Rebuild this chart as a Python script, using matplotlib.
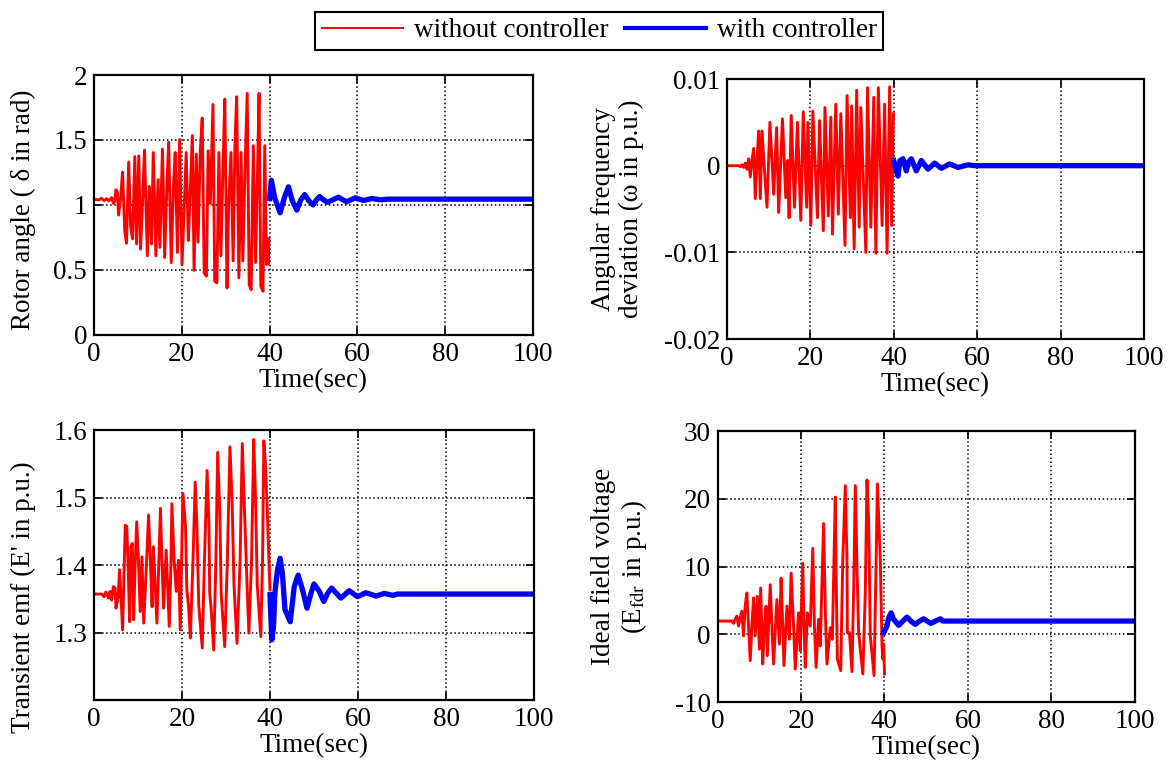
import numpy as np
import matplotlib
matplotlib.use("Agg")
import matplotlib.pyplot as plt
from matplotlib.lines import Line2D

plt.rcParams['font.family'] = ['Liberation Serif', 'DejaVu Serif']
plt.rcParams['mathtext.fontset'] = 'stix'

# rotor angle (rad)
rotor_t_wo = [0, 1.1, 1.7, 2.3, 2.9, 3.4, 4.0, 4.4, 4.7, 5.0, 5.3, 5.6, 6.1, 6.5, 7.0, 7.4, 7.9, 8.35, 8.8,
              9.3, 9.7, 10.2, 10.6, 11.1, 11.5, 12.15, 12.6, 13.1, 13.5, 14.1, 14.6, 15.0, 15.6, 16.1, 16.55,
              17.0, 17.6, 18.1, 18.5, 19.0, 19.5, 20.05, 20.5, 21.0, 21.5, 21.9, 22.4, 22.8, 23.3, 23.7, 24.2,
              24.65, 25.1, 25.6, 26.0, 26.5, 27.1, 27.5, 28.0, 28.45, 28.9, 29.4, 29.8, 30.3, 30.7, 31.2, 31.7,
              32.1, 32.5, 33.0, 33.5, 33.9, 34.4, 34.9, 35.35, 35.8, 36.3, 36.8, 37.25, 37.6, 38.0, 38.5, 38.9,
              39.3, 39.5, 39.7, 39.85]
rotor_wo = [1.044, 1.039, 1.052, 1.034, 1.049, 1.031, 1.057, 1.013, 1.026, 1.117, 1.104, 0.922, 1.065, 1.253,
            0.805, 0.706, 1.331, 0.831, 0.740, 1.372, 0.700, 1.378, 0.661, 1.065, 1.422, 0.609, 1.143, 0.700,
            1.404, 0.609, 1.195, 0.674, 1.430, 0.596, 1.091, 1.482, 0.557, 1.143, 1.404, 0.635, 1.503, 0.544,
            0.935, 1.404, 0.727, 1.078, 1.534, 0.497, 1.391, 0.714, 1.404, 1.669, 0.479, 0.453, 1.417, 1.013,
            1.773, 0.414, 0.401, 1.404, 0.609, 1.326, 1.815, 0.362, 1.013, 1.404, 0.570, 1.456, 1.833, 0.440,
            1.404, 0.570, 1.273, 1.859, 0.388, 0.349, 1.456, 0.557, 1.247, 1.859, 0.375, 0.336, 1.456, 0.544,
            0.740, 0.544, 0.740]
rotor_t_w = [40.0, 40.4, 41.2, 42.4, 43.4, 44.3, 45.2, 46.2, 47.1, 48.0, 49.0, 49.9, 50.7, 51.4, 52.3, 53.2,
             54.4, 55.7, 56.7, 57.6, 59.5, 61.4, 63.3, 65.2, 67.0, 100.0]
rotor_w = [1.05, 1.19, 1.05, 0.94, 1.06, 1.14, 1.03, 0.96, 1.04, 1.08, 1.03, 1.00, 1.04, 1.065, 1.04, 1.02,
           1.04, 1.06, 1.04, 1.025, 1.055, 1.035, 1.05, 1.04, 1.045, 1.045]

# angular frequency deviation (p.u.)
omega_t_wo = [0, 2.8, 3.2, 3.6, 4.0, 4.4, 4.8, 5.2, 5.6, 6.0, 6.4, 6.8, 7.2, 7.6, 8.0, 8.4, 9.0, 9.6, 10.3,
              10.8, 11.2, 11.9, 12.4, 13.3, 14.1, 14.5, 14.9, 15.4, 16.2, 16.9, 17.7, 18.3, 19.1, 19.4, 20.1,
              20.6, 21.7, 22.2, 23.1, 23.5, 24.3, 24.9, 25.3, 26.1, 26.7, 27.3, 28.3, 28.8, 29.6, 29.9, 30.5,
              31.1, 31.7, 32.1, 33.3, 33.7, 34.5, 35.2, 35.7, 36.3, 37.2, 37.8, 38.4, 39.0, 39.5, 39.9]
omega_wo = [0, 0, -0.0001, 0.0001, -0.0002, 0.0003, -0.0004, 0.0008, -0.0013, 0.0006, 0.002, -0.0038, 0.0006,
            0.004, -0.0038, 0.004, -0.0006, -0.0048, 0.005, 0.0006, -0.0033, 0.0044, -0.0054, 0.0054, -0.0037,
            0.0006, -0.006, 0.0058, -0.0048, 0.005, -0.0063, 0.0062, -0.0048, 0.005, -0.0069, 0.0063, -0.006,
            0.0052, -0.0075, 0.0067, -0.0058, 0.0056, -0.0079, 0.0071, -0.0056, 0.006, -0.0092, 0.0081, -0.006,
            0.0069, -0.0096, 0.0087, -0.0071, 0.0067, -0.01, 0.009, -0.0071, 0.0079, -0.0101, 0.009, -0.0069,
            0.0071, -0.0101, 0.0091, -0.0069, 0.006]
omega_t_w = [40.0, 40.6, 41.0, 41.5, 42.2, 43.0, 43.5, 44.2, 45.4, 46.6, 48.2, 49.8, 51.4, 53.4, 55.4, 57.8,
             59.4, 100.0]
omega_w = [0.0006, -0.0006, -0.0012, 0.0006, 0.0008, -0.0006, 0.0004, 0.0008, -0.0006, 0.0006, -0.0004,
           0.0003, -0.0003, 0.0002, -0.0002, 0.0001, 0, 0]

# transient emf (p.u.)
emf_t_wo = [0, 1.75, 2.3, 2.7, 3.3, 3.65, 4.0, 4.4, 4.8, 5.0, 5.5, 5.8, 6.3, 6.5, 7.1, 7.45, 7.8, 8.1, 8.4,
            8.7, 9.0, 9.35, 9.7, 10.1, 10.5, 10.9, 11.3, 11.9, 12.4, 12.8, 13.2, 13.5, 14.3, 14.7, 15.1, 15.4,
            15.8, 16.4, 17.1, 17.5, 17.7, 18.2, 18.7, 19.2, 19.6, 19.9, 20.2, 20.8, 21.1, 21.5, 21.9, 22.5,
            23.0, 23.4, 23.8, 24.6, 25.1, 25.7, 26.1, 26.3, 26.6, 27.2, 27.7, 28.1, 28.6, 28.9, 29.7, 30.3,
            30.9, 31.4, 31.8, 32.5, 33.2, 33.7, 34.2, 34.8, 35.2, 35.8, 36.3, 36.7, 37.1, 37.9, 38.3, 38.6,
            39.0, 39.4, 39.8, 40.0]
emf_wo = [1.357, 1.357, 1.353, 1.36, 1.351, 1.361, 1.348, 1.368, 1.366, 1.336, 1.353, 1.393, 1.331, 1.304,
          1.459, 1.457, 1.388, 1.316, 1.427, 1.432, 1.319, 1.398, 1.464, 1.407, 1.331, 1.412, 1.314, 1.398,
          1.474, 1.407, 1.338, 1.427, 1.314, 1.398, 1.484, 1.417, 1.336, 1.422, 1.309, 1.407, 1.491, 1.407,
          1.361, 1.407, 1.304, 1.407, 1.506, 1.457, 1.363, 1.338, 1.292, 1.407, 1.523, 1.457, 1.341, 1.277,
          1.407, 1.54, 1.466, 1.358, 1.338, 1.274, 1.407, 1.567, 1.476, 1.358, 1.279, 1.407, 1.575, 1.491,
          1.373, 1.284, 1.407, 1.58, 1.481, 1.368, 1.299, 1.407, 1.586, 1.501, 1.37, 1.294, 1.407, 1.584,
          1.545, 1.476, 1.398, 1.363]
emf_t_w = [40.0, 40.4, 40.8, 41.1, 41.7, 42.3, 42.8, 43.4, 44.6, 45.5, 46.4, 47.4, 48.4, 49.3, 50.0, 51.2,
           52.2, 53.1, 54.0, 55.1, 56.1, 58.0, 59.9, 61.8, 64.1, 66.0, 67.9, 69.0, 100.0]
emf_w = [1.356, 1.289, 1.309, 1.358, 1.393, 1.41, 1.388, 1.334, 1.316, 1.368, 1.385, 1.363, 1.336, 1.358,
         1.372, 1.361, 1.346, 1.358, 1.366, 1.358, 1.351, 1.362, 1.353, 1.359, 1.354, 1.358, 1.355, 1.357,
         1.357]

# ideal field voltage (p.u.)
efd_t_wo = [0, 3.4, 3.8, 4.2, 4.6, 5.0, 5.4, 5.8, 6.2, 6.6, 7.0, 7.4, 7.8, 8.2, 8.6, 9.0, 9.5, 10.0, 10.3,
            10.8, 11.2, 11.6, 11.9, 12.6, 13.0, 13.4, 14.2, 14.8, 15.2, 15.6, 15.9, 16.6, 17.2, 17.6, 18.2,
            18.6, 19.4, 19.8, 20.4, 20.7, 21.0, 21.5, 22.2, 22.8, 23.2, 23.6, 24.2, 24.6, 25.4, 25.8, 26.2,
            27.0, 27.5, 28.2, 28.4, 28.7, 29.5, 30.0, 30.6, 31.0, 31.1, 31.6, 32.2, 32.6, 33.0, 33.4, 33.8,
            34.8, 35.4, 35.8, 36.2, 36.6, 37.5, 38.0, 38.3, 39.0, 39.4, 39.6, 39.8, 40.0]
efd_wo = [1.95, 1.95, 1.61, 2.2, 2.68, 1.22, 2.44, 3.41, -0.24, 4.15, 6.1, 1.22, -3.9, 1.22, 5.37, -0.24,
          5.61, -2.2, 6.83, -4.39, 1.22, 4.15, -3.17, 7.32, 1.22, -4.39, 5.12, -1.46, 8.29, 1.22, -4.63, 4.15,
          -0.73, 9.02, 1.22, -5.12, 3.17, -2.44, 10.49, 1.22, -4.88, 3.17, 1.22, 12.68, 1.22, -4.88, 2.2,
          -1.71, 16.34, 3.66, -4.39, 0.98, -0.73, 20.24, 8.54, -3.66, -5.37, 10.98, 21.95, 10.98, 0.24, 0.24,
          -5.51, 6.1, 21.95, 10.0, 0.24, -5.85, 6.1, 22.78, 16.83, -0.24, -6.1, 10.98, 22.2, 10.98, -1.71,
          -3.66, -1.46, -5.85]
efd_t_w = [39.8, 40.6, 41.0, 41.6, 42.2, 43.4, 44.4, 45.4, 46.3, 47.4, 48.4, 49.4, 50.2, 51.1, 52.2, 53.4,
           54.0, 100.0]
efd_w = [0.24, 1.22, 2.44, 3.17, 2.2, 1.32, 1.95, 2.54, 1.95, 1.46, 1.95, 2.29, 1.95, 1.61, 1.95, 2.29,
         1.95, 1.95]

FS = 19.5

fig = plt.figure(figsize=(11.75, 7.74), dpi=100)
ax1 = fig.add_axes([0.080, 0.5672, 0.3736, 0.3359])
ax2 = fig.add_axes([0.6187, 0.5620, 0.3549, 0.3359])
ax3 = fig.add_axes([0.080, 0.0956, 0.3745, 0.3488])
ax4 = fig.add_axes([0.6108, 0.0930, 0.3549, 0.3501])

panels = [
    (ax1, rotor_t_wo, rotor_wo, rotor_t_w, rotor_w, (0, 2), [0, 0.5, 1, 1.5, 2], ['0', '0.5', '1', '1.5', '2']),
    (ax2, omega_t_wo, omega_wo, omega_t_w, omega_w, (-0.02, 0.01), [-0.02, -0.01, 0, 0.01],
     ['-0.02', '-0.01', '0', '0.01']),
    (ax3, emf_t_wo, emf_wo, emf_t_w, emf_w, (1.2, 1.6), [1.3, 1.4, 1.5, 1.6], ['1.3', '1.4', '1.5', '1.6']),
    (ax4, efd_t_wo, efd_wo, efd_t_w, efd_w, (-10, 30), [-10, 0, 10, 20, 30], ['-10', '0', '10', '20', '30']),
]

for ax, tr, yr, tb, yb, ylim, yt, ytl in panels:
    ax.plot(tr, yr, color='red', lw=2.1)
    ax.plot(tb, yb, color='blue', lw=3.8)
    ax.set_xlim(0, 100)
    ax.set_ylim(*ylim)
    ax.set_xticks([0, 20, 40, 60, 80, 100])
    ax.set_xticklabels(['0', '20', '40', '60', '80', '100'])
    ax.set_yticks(yt)
    ax.set_yticklabels(ytl)
    ax.grid(True, color='black', linestyle=':', lw=1.1)
    ax.tick_params(direction='in', top=True, right=True, length=6, width=1.2, labelsize=FS, pad=5)
    for s in ax.spines.values():
        s.set_linewidth(1.6)
    ax.set_xlabel('Time(sec)', fontsize=FS, labelpad=1)

ax1.set_ylabel('Rotor angle ( δ in rad)', fontsize=FS)
ax1.yaxis.set_label_coords(-0.132, 0.48)
ax2.set_ylabel('Angular frequency\ndeviation (ω in p.u.)', fontsize=FS, linespacing=1.15)
ax2.yaxis.set_label_coords(-0.198, 0.5)
ax3.set_ylabel("Transient emf (E' in p.u.)", fontsize=FS)
ax3.yaxis.set_label_coords(-0.132, 0.38)
ax4.set_ylabel('Ideal field voltage\n(E$_{\\rm fdr}$ in p.u.)', fontsize=FS, linespacing=1.15)
ax4.yaxis.set_label_coords(-0.165, 0.5)

h1 = Line2D([], [], color='red', lw=1.4)
h2 = Line2D([], [], color='blue', lw=3.0)
leg = fig.legend([h1, h2], ['without controller', 'with controller'], loc='center',
                 bbox_to_anchor=(0.51, 0.96), ncol=2, fontsize=FS, fancybox=False,
                 edgecolor='black', framealpha=1, handlelength=3.0, handletextpad=0.4,
                 columnspacing=0.6, borderpad=0.25, borderaxespad=0)
leg.get_frame().set_linewidth(1.5)

fig.savefig('out.png', dpi=100)
